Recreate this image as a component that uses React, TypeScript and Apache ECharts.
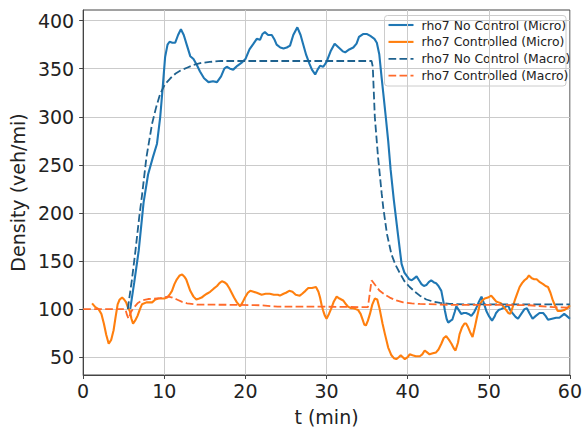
import React, { useEffect, useRef } from "react";
import * as echarts from "echarts";

// ---- data ----
const tNoCtrlMicro = [5.8,6.3,6.85,7.45,8.0,8.6,9.1,9.5,9.8,10.1,10.4,10.65,11.0,11.35,11.7,12.05,12.4,12.8,13.2,13.6,14.0,14.4,14.9,15.45,16.0,16.5,17.0,17.4,17.7,18.1,18.5,19.0,19.5,20.0,20.5,21.0,21.4,21.8,22.1,22.4,22.8,23.25,23.6,23.85,24.3,24.7,25.1,25.5,25.9,26.4,26.8,27.1,27.5,27.9,28.2,28.6,28.9,29.2,29.6,30.0,30.5,31.0,31.5,32.0,32.3,32.8,33.3,33.7,34.0,34.5,35.0,35.4,35.9,36.2,36.5,36.8,37.0,37.3,37.6,37.9,38.3,38.8,39.25,39.6,39.85,40.2,40.5,40.8,41.1,41.4,41.7,42.0,42.3,42.6,42.9,43.2,43.5,43.8,44.15,44.4,44.6,44.8,45.0,45.3,45.5,45.8,46.0,46.3,46.6,46.9,47.2,47.5,47.85,48.2,48.5,48.8,49.1,49.4,49.7,50.0,50.4,50.7,50.9,51.2,51.5,52.0,52.35,52.7,53.0,53.3,53.6,54.0,54.4,54.7,55.0,55.4,55.8,56.25,56.7,57.0,57.3,57.8,58.3,58.7,59.0,59.3,59.6,60.0];
const vNoCtrlMicro = [100,128,161,211,240,258,272,300,330,362,375,378,377,377,385,391,385,374,363,360,354,347,340,336,337,336,342,350,352,350,349,353,356,360,370,376,381,380,386,388,385,385,380,375,372,371,372,374,385,393,385,376,364,355,349,344,349,353,352,357,368,376,372,368,367,370,372,376,383,386,386,384,381,377,365,340,324,300,275,245,213,178,147,138,135,131,130,132,134,130,126,124,125,128,130,128,127,124,119,108,98,90,86,88,89,97,103,99,95,96,96,95,93,97,102,108,113,106,98,93,88,92,96,99,100,102,104,98,95,92,90,95,100,101,96,90,93,96,96,93,89,90,91,91,93,95,93,90];

const tCtrlMicro = [1.1,1.5,1.9,2.25,2.55,2.85,3.15,3.45,3.75,4.0,4.25,4.5,4.8,5.05,5.3,5.55,5.75,5.95,6.15,6.4,6.7,7.0,7.25,7.8,8.5,8.9,9.3,9.7,10.0,10.35,10.65,10.95,11.25,11.55,11.9,12.2,12.45,12.7,12.95,13.2,13.6,13.95,14.3,14.6,14.9,15.25,15.65,16.05,16.5,16.8,17.1,17.4,17.7,18.0,18.3,18.6,18.95,19.35,19.65,19.95,20.3,20.6,21.0,21.4,22.0,22.5,23.0,23.5,24.0,24.25,24.7,25.0,25.4,25.8,26.2,26.7,27.0,27.4,27.75,28.2,28.7,29.0,29.2,29.4,29.6,29.8,30.0,30.3,30.6,30.9,31.25,31.6,32.05,32.4,32.65,33.0,33.3,33.6,33.9,34.2,34.45,34.65,34.85,35.1,35.35,35.65,35.95,36.25,36.55,36.9,37.2,37.6,38.0,38.3,38.6,38.9,39.15,39.4,39.65,40.0,40.25,40.6,41.0,41.5,41.8,42.1,42.4,42.7,43.1,43.5,43.8,44.15,44.45,44.75,45.1,45.4,45.7,45.9,46.2,46.4,46.7,47.0,47.2,47.4,47.7,48.0,48.25,48.5,48.9,49.2,49.5,49.9,50.3,50.6,50.9,51.2,51.5,51.85,52.15,52.4,52.65,52.9,53.2,53.5,53.8,54.1,54.4,54.7,54.95,55.3,55.6,55.9,56.3,56.7,57.0,57.3,57.6,57.9,58.2,58.5,58.9,59.3,59.7,60.0];
const vCtrlMicro = [106,102,100,95,85,73,64,68,78,92,105,110,112,110,107,101,98,90,85,88,93,100,105,107,107,110,111,111,111,112,115,119,126,131,135,136,134,131,125,119,113,110,111,112,114,116,118,121,124,127,129,128,126,122,117,112,107,103,107,112,117,119,118,117,115,116,116,115,115,114,116,117,119,118,115,114,116,119,122,122,123,118,112,104,98,93,90,95,101,108,113,111,109,105,102.6,101,101,100,99,95,89,84,83,88,95,105,111,110,100,85,74,60,52,49,48,50,52,50,48,50,53,52,51,51,53,57,55,53,54,55,58,64,70,72,68,64,59,57,65,74,81,85,85,82,76,71,80,90,105,109,111,112,114,111,108,107,106,102,99,96,95,101,109,116,123,127,130,132,135,132,131,131,128,126,124,123,117,109,103,98,98,99,101,104];

const tNoCtrlMacro = [5.5,6.0,6.45,6.9,7.25,7.8,8.5,9.0,9.5,10.1,10.75,11.4,12.0,12.8,13.6,14.6,15.6,17,20,25,30,35.55,35.7,35.95,36.35,36.8,37.0,37.45,38.0,38.5,39.0,39.6,40.25,40.9,41.5,42.3,43.1,44.0,45.2,47,50,55,60];
const vNoCtrlMacro = [100,130,161,195,218,258,293,310,324,334,340,345,348,351,354,356,357,358,358,358,358,358,352,300,258,220,205,178,157,146,138,129,123,118,114,110,108,106.5,105.5,105,105,105,105];

const tCtrlMacro = [0,5.2,5.4,5.6,5.9,6.2,6.7,7.25,8.0,9.5,10.5,11.0,11.55,12.2,12.8,14,18,22,24,30,35.1,35.55,36.0,36.55,37.2,37.8,38.6,39.45,40.5,41.5,45,50,55,58,60];
const vCtrlMacro = [100,100,94,90,97,101,106,109,110.5,111.5,113,112,110,107.5,106,104.7,104.5,104,102.5,102.5,102,130,125,119,115,112,109,107,106,105.4,104.5,104.5,104,102,101.5];

const seriesNames = [
  "rho7 No Control (Micro)",
  "rho7 Controlled (Micro)",
  "rho7 No Control (Macro)",
  "rho7 Controlled (Macro)",
];
const yTicks = [50, 100, 150, 200, 250, 300, 350, 400];

const zip = (t: number[], v: number[]) => t.map((x, i) => [x, v[i]]);

const FONT = "DejaVu Sans";
const COLORS = ["#1f77b4", "#ff7f0e", "#1f628f", "#ff6a2a"];
const DASH = [7.7, 3.3];

export default function App() {
  const ref = useRef<HTMLDivElement>(null);
  useEffect(() => {
    if (!ref.current) return;
    const chart = echarts.init(ref.current, null, { renderer: "svg" });

    // legend drawn with graphic elements (matplotlib-style box)
    const rowY = [25, 41.9, 58.8, 75.7];
    const legendChildren: any[] = [
      {
        type: "rect",
        shape: { x: 384.5, y: 15.5, width: 181.5, height: 70.5, r: 3 },
        style: { fill: "rgba(255,255,255,0.85)", stroke: "#cccccc", lineWidth: 1 },
      },
    ];
    seriesNames.forEach((name, i) => {
      const dashed = i >= 2;
      legendChildren.push({
        type: "line",
        shape: { x1: 388.5, y1: rowY[i], x2: 413.5, y2: rowY[i] },
        style: {
          stroke: COLORS[i],
          lineWidth: dashed ? 1.8 : 2.1,
          lineDash: dashed ? DASH : null,
        },
      });
      legendChildren.push({
        type: "text",
        x: 421.5,
        y: rowY[i],
        style: {
          text: name,
          fill: "#222",
          fontSize: 12.4,
          fontFamily: FONT,
          verticalAlign: "middle",
          align: "left",
        },
      });
    });

    const mkSeries = (i: number, t: number[], v: number[]) => ({
      name: seriesNames[i],
      type: "line",
      data: zip(t, v),
      showSymbol: false,
      symbol: "none",
      lineStyle: {
        color: COLORS[i],
        width: i >= 2 ? 1.8 : 2.1,
        type: i >= 2 ? DASH : "solid",
      },
      itemStyle: { color: COLORS[i] },
    });

    chart.setOption({
      animation: false,
      backgroundColor: "#fff",
      grid: {
        left: 82,
        right: 13,
        top: 10,
        bottom: 56,
        show: true,
        borderColor: "#444",
        borderWidth: 1,
        backgroundColor: "transparent",
      },
      xAxis: {
        type: "value",
        min: 0,
        max: 60,
        interval: 10,
        name: "t (min)",
        nameLocation: "middle",
        nameGap: 32,
        nameTextStyle: { fontSize: 19, fontFamily: FONT, color: "#222" },
        axisLine: { show: true, lineStyle: { color: "#444" } },
        axisTick: { show: true, length: 4, lineStyle: { color: "#444" } },
        axisLabel: { fontSize: 19, fontFamily: FONT, color: "#222", margin: 6 },
        splitLine: { show: true, lineStyle: { color: "#cbcbcb", width: 1 } },
      },
      yAxis: {
        type: "value",
        min: 31.5,
        max: 411,
        name: "Density (veh/mi)",
        nameLocation: "middle",
        nameGap: 52,
        nameTextStyle: { fontSize: 19, fontFamily: FONT, color: "#222" },
        axisLine: { show: true, lineStyle: { color: "#444" } },
        axisTick: { show: true, length: 4, customValues: yTicks, lineStyle: { color: "#444" } },
        axisLabel: { fontSize: 19, fontFamily: FONT, color: "#222", margin: 9, customValues: yTicks },
        splitLine: { show: true, lineStyle: { color: "#cbcbcb", width: 1 } },
      },
      graphic: [{ type: "group", z: 100, children: legendChildren }],
      series: [
        mkSeries(0, tNoCtrlMicro, vNoCtrlMicro),
        mkSeries(1, tCtrlMicro, vCtrlMicro),
        mkSeries(2, tNoCtrlMacro, vNoCtrlMacro),
        mkSeries(3, tCtrlMacro, vCtrlMacro),
      ],
    });
    return () => chart.dispose();
  }, []);
  return (
    <div
      ref={ref}
      style={{ position: "fixed", left: 0, top: 0, width: 585, height: 431 }}
    />
  );
}
